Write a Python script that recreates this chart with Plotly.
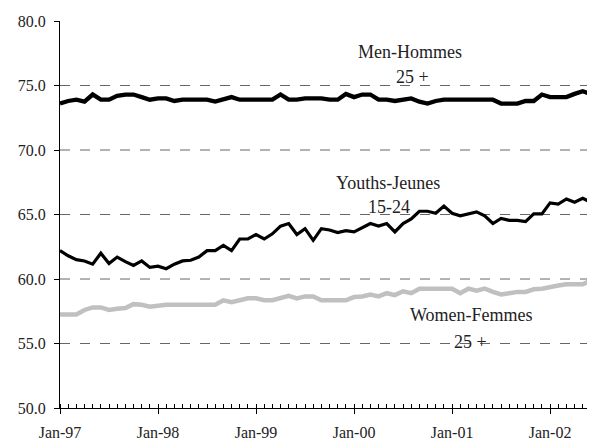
import plotly.graph_objects as go
import pandas as pd

months = [d.strftime("%b-%y") for d in pd.date_range("1997-01-01", "2002-06-01", freq="MS")]

men = [73.6, 73.8, 73.9, 73.75, 74.3, 73.9, 73.9, 74.2, 74.3, 74.3, 74.1, 73.9,
       74.0, 74.0, 73.8, 73.9, 73.9, 73.9, 73.9, 73.75, 73.9, 74.1, 73.9, 73.9,
       73.9, 73.9, 73.9, 74.3, 73.9, 73.9, 74.0, 74.0, 74.0, 73.9, 73.9, 74.35,
       74.1, 74.3, 74.3, 73.9, 73.9, 73.8, 73.9, 74.0, 73.75, 73.6, 73.8, 73.9,
       73.9, 73.9, 73.9, 73.9, 73.9, 73.9, 73.6, 73.6, 73.6, 73.8, 73.8, 74.3,
       74.1, 74.1, 74.1, 74.35, 74.55, 74.35]

youths = [62.2, 61.8, 61.5, 61.4, 61.15, 62.0, 61.2, 61.7, 61.35, 61.05, 61.4, 60.9,
          61.0, 60.8, 61.15, 61.4, 61.45, 61.7, 62.2, 62.2, 62.6, 62.2, 63.1, 63.1,
          63.45, 63.1, 63.5, 64.1, 64.3, 63.45, 63.9, 63.0, 63.9, 63.8, 63.6, 63.75,
          63.65, 63.95, 64.3, 64.1, 64.3, 63.65, 64.3, 64.65, 65.25, 65.25, 65.1, 65.65,
          65.1, 64.9, 65.05, 65.2, 64.9, 64.3, 64.7, 64.55, 64.55, 64.45, 65.05, 65.05,
          65.9, 65.8, 66.2, 65.95, 66.25, 65.95]

women = [57.25, 57.25, 57.25, 57.6, 57.8, 57.8, 57.6, 57.7, 57.75, 58.05, 58.0, 57.85,
         57.95, 58.0, 58.0, 58.0, 58.0, 58.0, 58.0, 58.0, 58.35, 58.2, 58.35, 58.5,
         58.5, 58.35, 58.35, 58.55, 58.7, 58.5, 58.65, 58.65, 58.35, 58.35, 58.35, 58.35,
         58.6, 58.65, 58.8, 58.65, 58.9, 58.75, 59.05, 58.9, 59.25, 59.25, 59.25, 59.25,
         59.25, 58.9, 59.25, 59.1, 59.25, 59.0, 58.8, 58.9, 59.0, 59.0, 59.2, 59.25,
         59.4, 59.5, 59.6, 59.6, 59.6, 59.9]

y_ticks = [50, 55, 60, 65, 70, 75, 80]
grid_levels = [55, 60, 65, 70, 75]

x = list(range(len(months)))
jan_idx = [i for i, m in enumerate(months) if m.startswith("Jan")]
jan_lbl = [months[i] for i in jan_idx]

FONT = "Liberation Serif, Times New Roman, serif"

fig = go.Figure()
fig.add_trace(go.Scatter(x=x, y=women, mode="lines", line=dict(color="#c0c0c0", width=4.5), name="Women"))
fig.add_trace(go.Scatter(x=x, y=youths, mode="lines", line=dict(color="#000000", width=3.2), name="Youths"))
fig.add_trace(go.Scatter(x=x, y=men, mode="lines", line=dict(color="#000000", width=4.3), name="Men"))

for g in grid_levels:
    fig.add_shape(type="line", xref="paper", x0=0, x1=1, yref="y", y0=g, y1=g,
                  line=dict(color="#666666", width=1, dash="10px,10px"), layer="below")

ann = [
    ("Men-Hommes", 42.86, 77.6),
    ("25 +", 43.2, 75.66),
    ("Youths-Jeunes", 40.2, 67.44),
    ("15-24", 40.3, 65.58),
    ("Women-Femmes", 50.4, 57.2),
    ("25 +", 50.2, 55.1),
]
for t, ax_, ay_ in ann:
    fig.add_annotation(x=ax_, y=ay_, text=t, showarrow=False, xanchor="center", yanchor="middle",
                       font=dict(family=FONT, size=18, color="#222222"))

# page body has an 8px default margin: figure is sized/offset to compensate
fig.update_layout(
    width=587, height=434,
    margin=dict(l=52, r=0, t=13, b=34, autoexpand=False),
    plot_bgcolor="white", paper_bgcolor="white",
    showlegend=False,
    font=dict(family=FONT, size=16, color="#222222"),
)
fig.update_xaxes(
    range=[0, 65.5], showgrid=False, zeroline=False, automargin=False,
    showline=True, linecolor="black", linewidth=1,
    tickmode="array", tickvals=jan_idx, ticktext=jan_lbl,
    ticks="outside", ticklen=5, tickcolor="black", tickwidth=1,
    ticklabelstandoff=5,
    minor=dict(tickmode="linear", tick0=0, dtick=1, ticks="inside", ticklen=4, tickcolor="black", tickwidth=1, showgrid=False),
    tickfont=dict(family=FONT, size=16, color="#222222"),
)
fig.update_yaxes(
    range=[50, 80], showgrid=False, zeroline=False, automargin=False,
    showline=True, linecolor="black", linewidth=1,
    tickmode="array", tickvals=y_ticks, tickformat=".1f",
    ticks="outside", ticklen=5, tickcolor="black", tickwidth=1,
    ticklabelstandoff=5,
    tickfont=dict(family=FONT, size=16, color="#222222"),
)

fig.write_html("out.html")
